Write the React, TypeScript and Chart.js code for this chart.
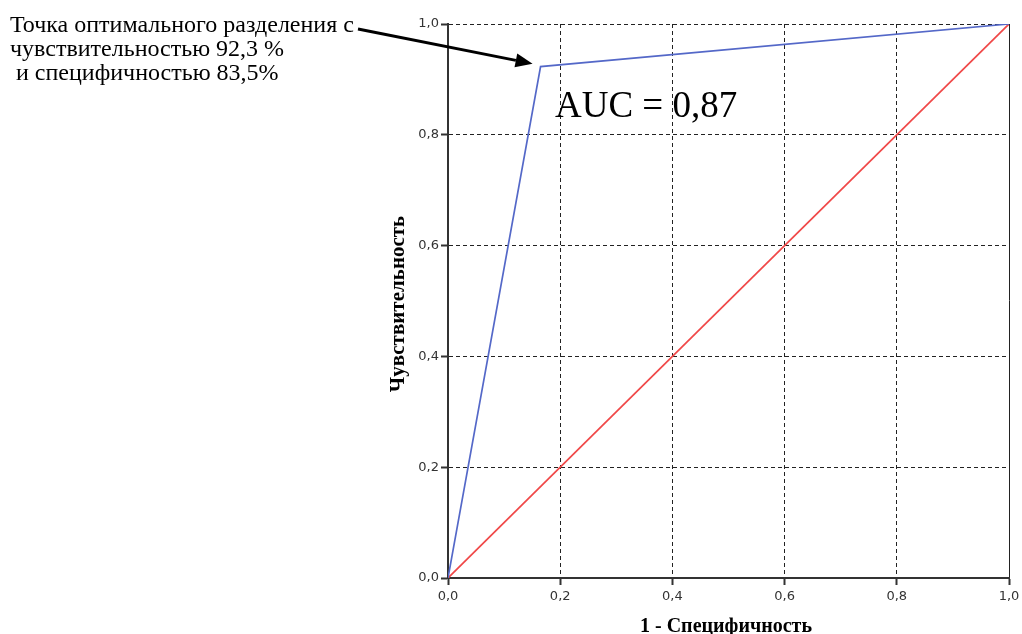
import React, { useEffect, useRef } from 'react';
import { Chart, registerables } from 'chart.js';

Chart.register(...registerables);

const rocX = [0, 0.165, 1];
const rocY = [0, 0.923, 1];
const refX = [0, 1];
const refY = [0, 1];
const tickValues = [0, 0.2, 0.4, 0.6, 0.8, 1.0];
const xTitle = '1 - Специфичность';
const yTitle = 'Чувствительность';
const aucLabel = 'AUC = 0,87';
const noteLines = ['Точка оптимального разделения с', 'чувствительностью 92,3 %', ' и специфичностью 83,5%'];
const optimalIndex = 1;

const fmt = (v: number) => v.toFixed(1).replace('.', ',');

const annotations = {
  id: 'annotations',
  afterDraw(chart: any) {
    const { ctx, scales } = chart;
    const xs = scales.x;
    const ys = scales.y;
    ctx.save();
    ctx.fillStyle = '#000';
    // note text
    ctx.font = '24px "Liberation Serif", "Times New Roman", serif';
    ctx.textAlign = 'left';
    ctx.textBaseline = 'alphabetic';
    noteLines.forEach((l, i) => ctx.fillText(l, 10, 32 + i * 24));
    // AUC
    ctx.font = '37px "Liberation Serif", "Times New Roman", serif';
    ctx.fillText(aucLabel, 555, 117);
    // x title
    ctx.font = 'bold 20px "Liberation Serif", "Times New Roman", serif';
    ctx.textAlign = 'center';
    ctx.fillText(xTitle, 726, 632);
    // y title
    ctx.save();
    ctx.font = 'bold 21px "Liberation Serif", "Times New Roman", serif';
    ctx.translate(404, 304);
    ctx.rotate(-Math.PI / 2);
    ctx.fillText(yTitle, 0, 0);
    ctx.restore();
    // arrow
    const px = xs.getPixelForValue(rocX[optimalIndex]) - 8;
    const py = ys.getPixelForValue(rocY[optimalIndex]) - 3;
    const sx = 358;
    const sy = 29;
    const ang = Math.atan2(py - sy, px - sx);
    const hl = 17;
    const hw = 7;
    const bx = px - hl * Math.cos(ang);
    const by = py - hl * Math.sin(ang);
    ctx.strokeStyle = '#000';
    ctx.lineWidth = 3;
    ctx.beginPath();
    ctx.moveTo(sx, sy);
    ctx.lineTo(bx, by);
    ctx.stroke();
    ctx.beginPath();
    ctx.moveTo(px, py);
    ctx.lineTo(bx + hw * Math.sin(ang), by - hw * Math.cos(ang));
    ctx.lineTo(bx - hw * Math.sin(ang), by + hw * Math.cos(ang));
    ctx.closePath();
    ctx.fill();
    ctx.restore();
  },
};

export default function App() {
  const ref = useRef<HTMLCanvasElement>(null);
  useEffect(() => {
    document.body.style.margin = '0';
    const canvas = ref.current!;
    const tickFont = { family: '"DejaVu Sans", sans-serif', size: 13 };
    const chart = new Chart(canvas, {
      type: 'scatter',
      data: {
        datasets: [
          {
            data: rocX.map((x, i) => ({ x, y: rocY[i] })),
            showLine: true,
            borderColor: '#5468C8',
            borderWidth: 1.7,
            pointRadius: 0,
          },
          {
            data: refX.map((x, i) => ({ x, y: refY[i] })),
            showLine: true,
            borderColor: '#F04848',
            borderWidth: 1.7,
            pointRadius: 0,
          },
        ],
      },
      options: {
        animation: false,
        responsive: false,
        events: [],
        layout: { padding: { left: 388, right: 13, top: 24, bottom: 0 } },
        plugins: { legend: { display: false }, tooltip: { enabled: false } },
        scales: {
          x: {
            type: 'linear',
            min: 0,
            max: 1,
            afterFit: (s: any) => { s.height = 56; s.paddingRight = 0; s.paddingLeft = 0; },
            afterBuildTicks: (s: any) => { s.ticks = tickValues.map((value) => ({ value })); },
            ticks: { callback: (v: any) => fmt(Number(v)), font: tickFont, color: '#333', padding: 4, maxRotation: 0, autoSkip: false },
            grid: { color: '#222', lineWidth: 1, tickLength: 7, tickColor: '#333', tickWidth: 2 },
            border: {
              color: '#333',
              width: 2,
              dash: (c: any) => (c.tick && c.tick.value === 1 ? [] : [4, 3]),
            },
          },
          y: {
            type: 'linear',
            min: 0,
            max: 1,
            afterFit: (s: any) => { s.width = 60; s.paddingTop = 0; s.paddingBottom = 0; },
            afterBuildTicks: (s: any) => { s.ticks = tickValues.map((value) => ({ value })); },
            ticks: { callback: (v: any) => fmt(Number(v)), font: tickFont, color: '#333', padding: 2, autoSkip: false },
            grid: { color: '#222', lineWidth: 1, tickLength: 7, tickColor: '#333', tickWidth: 2 },
            border: { color: '#333', width: 2, dash: [4, 3] },
          },
        },
      },
      plugins: [annotations],
    });
    return () => chart.destroy();
  }, []);
  return <canvas ref={ref} width={1022} height={634} style={{ display: 'block' }} />;
}
